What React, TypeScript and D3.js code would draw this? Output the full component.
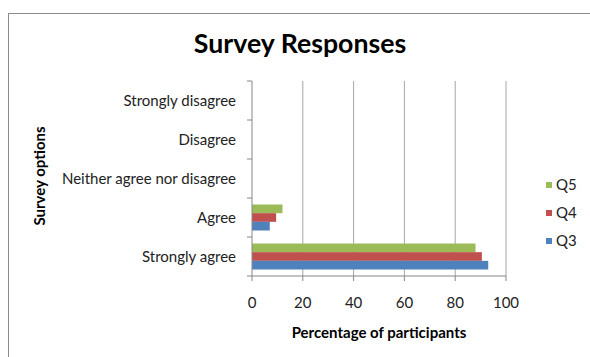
import React from "react";
import * as d3 from "d3";

const categories = [
  "Strongly disagree",
  "Disagree",
  "Neither agree nor disagree",
  "Agree",
  "Strongly agree",
];
const seriesNames = ["Q5", "Q4", "Q3"];
const q3 = [0, 0, 0, 7, 93];
const q4 = [0, 0, 0, 9.5, 90.5];
const q5 = [0, 0, 0, 12, 88];
const xTicks = [0, 20, 40, 60, 80, 100];

const colors: Record<string, string> = {
  Q3: "#4F81BD",
  Q4: "#C0504D",
  Q5: "#9BBB59",
};
const values: Record<string, number[]> = { Q3: q3, Q4: q4, Q5: q5 };

const width = 590;
const height = 357;
const margin = { top: 81, right: 84, bottom: 81, left: 252 };
const font = "Lato, 'Open Sans', sans-serif";

const App = () => {
  const x = d3
    .scaleLinear()
    .domain([0, 100])
    .range([margin.left, width - margin.right]);
  const y = d3
    .scaleBand()
    .domain(categories)
    .range([margin.top, height - margin.bottom]);
  const ySub = d3
    .scaleBand()
    .domain(seriesNames)
    .range([0, y.bandwidth()])
    .paddingOuter(0.75);

  const axisColor = "#868686";
  const gridColor = "#a6a6a6";
  const bottom = height - margin.bottom;

  return (
    <svg
      width={width}
      height={height}
      style={{ position: "absolute", left: 0, top: 0, background: "#fff" }}
    >
      <rect x={8.5} y={13.5} width={620} height={400} fill="#fff" stroke="#8c8c8c" />

      <text x={300} y={53} textAnchor="middle" fontFamily={font} fontWeight="bold" fontSize={26.7}>
        Survey Responses
      </text>

      {xTicks.slice(1).map((t) => (
        <line key={t} x1={x(t)} x2={x(t)} y1={margin.top} y2={bottom} stroke={gridColor} />
      ))}

      {categories.map((c, i) =>
        seriesNames.map((s) => (
          <rect
            key={c + s}
            x={x(0)}
            y={(y(c) ?? 0) + (ySub(s) ?? 0)}
            width={x(values[s][i]) - x(0)}
            height={ySub.bandwidth()}
            fill={colors[s]}
          />
        ))
      )}

      <line x1={x(0)} x2={x(0)} y1={margin.top} y2={bottom} stroke={axisColor} />
      <line x1={x(0)} x2={x(100)} y1={bottom} y2={bottom} stroke={axisColor} />
      {categories.map((c) => (
        <line key={c} x1={x(0) - 5} x2={x(0)} y1={y(c)} y2={y(c)} stroke={axisColor} />
      ))}
      <line x1={x(0) - 5} x2={x(0)} y1={bottom} y2={bottom} stroke={axisColor} />
      {xTicks.map((t) => (
        <g key={t}>
          <line x1={x(t)} x2={x(t)} y1={bottom} y2={bottom + 5} stroke={axisColor} />
          <text x={x(t)} y={308} textAnchor="middle" fontFamily={font} fontSize={15} fill="#222">
            {t}
          </text>
        </g>
      ))}

      {categories.map((c) => (
        <text
          key={c}
          x={236}
          y={(y(c) ?? 0) + y.bandwidth() / 2 + 5}
          textAnchor="end"
          fontFamily={font}
          fontSize={15}
          fill="#222"
        >
          {c}
        </text>
      ))}

      <text
        transform="translate(45,176) rotate(-90)"
        textAnchor="middle"
        fontFamily={font}
        fontWeight="bold"
        fontSize={15}
      >
        Survey options
      </text>
      <text x={379} y={338} textAnchor="middle" fontFamily={font} fontWeight="bold" fontSize={15}>
        Percentage of participants
      </text>

      {seriesNames.map((s, i) => (
        <g key={s} transform={`translate(546,${185 + i * 28})`}>
          <rect x={0} y={-3} width={6} height={6} fill={colors[s]} />
          <text x={10} y={5} fontFamily={font} fontSize={15} fill="#222">
            {s}
          </text>
        </g>
      ))}
    </svg>
  );
};

export default App;
